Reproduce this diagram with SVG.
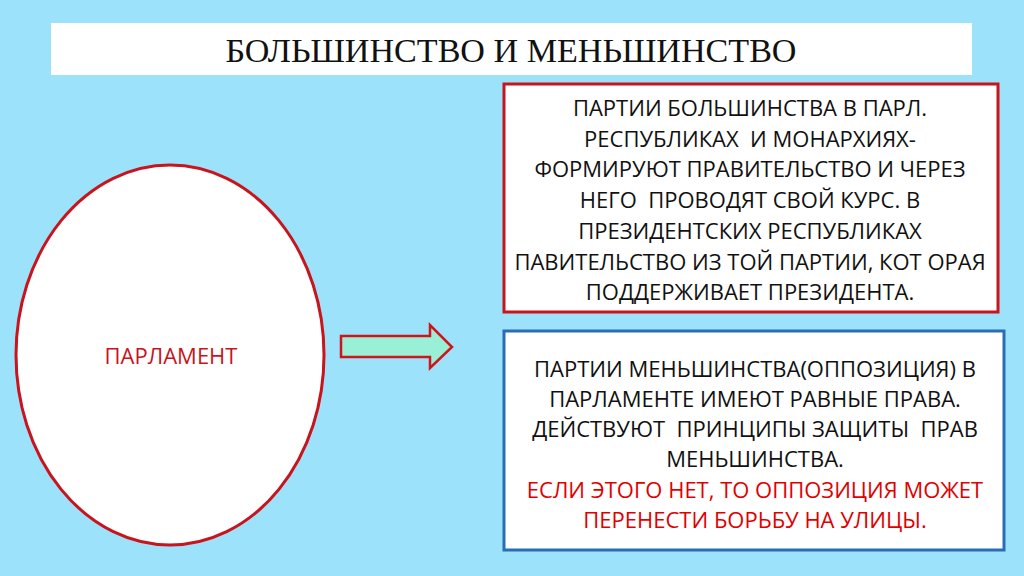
<svg xmlns="http://www.w3.org/2000/svg" width="1024" height="576" viewBox="0 0 1024 576">
<style>
.t{font-family:"Open Sans","Liberation Sans",sans-serif;font-size:22px;fill:#111;text-anchor:middle;white-space:pre}
.r{fill:#e00000}
</style>
<rect width="1024" height="576" fill="#9de2fb"/>
<g id="title">
<rect x="51" y="23" width="921" height="52" fill="#fff"/>
<text x="511" y="62" font-family="Liberation Serif, serif" font-size="33" fill="#111" text-anchor="middle" textLength="571" lengthAdjust="spacingAndGlyphs">БОЛЬШИНСТВО И МЕНЬШИНСТВО</text>
</g>
<g id="parliament">
<ellipse cx="170" cy="355" rx="154" ry="190" fill="#fff" stroke="#c8141c" stroke-width="3"/>
<text x="171" y="364" font-family="Open Sans, Liberation Sans, sans-serif" font-size="22" fill="#c8141c" text-anchor="middle">ПАРЛАМЕНТ</text>
</g>
<g id="connectors">
<path d="M341 336 H430 V325 L452 347 L430 368 V357 H341 Z" fill="#9af0d6" stroke="#d0141c" stroke-width="2.5" stroke-linejoin="miter"/>
</g>
<g id="majority">
<rect x="504" y="84" width="494" height="228" fill="#fff" stroke="#c8141c" stroke-width="3"/>
<text class="t" x="750" y="116">ПАРТИИ БОЛЬШИНСТВА В ПАРЛ.</text>
<text class="t" x="750" y="147">РЕСПУБЛИКАХ  И МОНАРХИЯХ-</text>
<text class="t" x="750" y="177">ФОРМИРУЮТ ПРАВИТЕЛЬСТВО И ЧЕРЕЗ</text>
<text class="t" x="750" y="208">НЕГО  ПРОВОДЯТ СВОЙ КУРС. В</text>
<text class="t" x="750" y="239">ПРЕЗИДЕНТСКИХ РЕСПУБЛИКАХ</text>
<text class="t" x="750" y="270">ПАВИТЕЛЬСТВО ИЗ ТОЙ ПАРТИИ, КОТ ОРАЯ</text>
<text class="t" x="750" y="300">ПОДДЕРЖИВАЕТ ПРЕЗИДЕНТА.</text>
</g>
<g id="minority">
<rect x="504" y="331" width="500" height="219" fill="#fff" stroke="#2a6db5" stroke-width="3"/>
<text class="t" x="755" y="377">ПАРТИИ МЕНЬШИНСТВА(ОППОЗИЦИЯ) В</text>
<text class="t" x="755" y="407">ПАРЛАМЕНТЕ ИМЕЮТ РАВНЫЕ ПРАВА.</text>
<text class="t" x="755" y="437">ДЕЙСТВУЮТ  ПРИНЦИПЫ ЗАЩИТЫ  ПРАВ</text>
<text class="t" x="755" y="467">МЕНЬШИНСТВА.</text>
<text class="t r" x="755" y="498">ЕСЛИ ЭТОГО НЕТ, ТО ОППОЗИЦИЯ МОЖЕТ</text>
<text class="t r" x="755" y="528">ПЕРЕНЕСТИ БОРЬБУ НА УЛИЦЫ.</text>
</g>
</svg>
